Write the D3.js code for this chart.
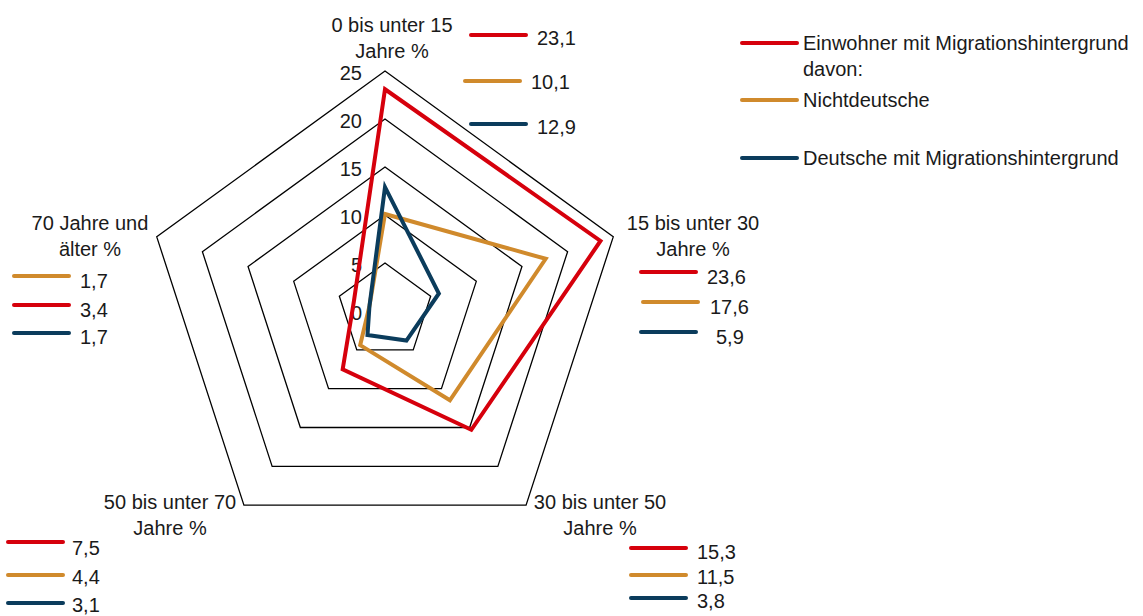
<!DOCTYPE html>
<html>
<head>
<meta charset="utf-8">
<script src="https://cdn.jsdelivr.net/npm/d3@7"></script>
<style>
  body { margin: 0; background: #fff; }
  svg text { font-family: "Liberation Sans", Arial, sans-serif; font-size: 20px; fill: #1a1a1a; letter-spacing: 0px; }
</style>
</head>
<body>
<script>
// categories (axes), clockwise from top
var categories = [
  ["0 bis unter 15", "Jahre %"],
  ["15 bis unter 30", "Jahre %"],
  ["30 bis unter 50", "Jahre %"],
  ["50 bis unter 70", "Jahre %"],
  ["70 Jahre und", "älter %"]
];
var seriesNames = ["Einwohner mit Migrationshintergrund", "Nichtdeutsche", "Deutsche mit Migrationshintergrund"];
var einwohner = [23.1, 23.6, 15.3, 7.5, 3.4];
var nichtdeutsche = [10.1, 17.6, 11.5, 4.4, 1.7];
var deutscheMig = [12.9, 5.9, 3.8, 3.1, 1.7];
var tickValues = [0, 5, 10, 15, 20, 25];

var WIDTH = 1143, HEIGHT = 616;
var CX = 385, CY = 311, R = 240;
var COLORS = ["#d6000c", "#d08a2c", "#0b3c5c"];

var seriesData = [einwohner, nichtdeutsche, deutscheMig];
var fmt = function(v) { return d3.format(".1f")(v).replace(".", ","); };

var svg = d3.select("body").append("svg")
  .attr("width", WIDTH)
  .attr("height", HEIGHT);

var r = d3.scaleLinear().domain([0, 25]).range([0, R]);
var angle = d3.scaleLinear().domain([0, categories.length]).range([0, 2 * Math.PI]);

var radial = d3.lineRadial()
  .angle(function(d, i) { return angle(i); })
  .radius(function(d) { return r(d); })
  .curve(d3.curveLinearClosed);

var g = svg.append("g").attr("transform", "translate(" + CX + "," + CY + ")");

// grid rings
g.selectAll("path.ring")
  .data(tickValues.filter(function(t) { return t > 0; }))
  .enter().append("path")
  .classed("ring", true)
  .attr("d", function(t) { return radial(categories.map(function() { return t; })); })
  .attr("fill", "none")
  .attr("stroke", "#000")
  .attr("stroke-width", 1.3);

// tick labels
g.selectAll("text.tick")
  .data(tickValues)
  .enter().append("text")
  .classed("tick", true)
  .attr("x", -23)
  .attr("y", function(t) { return -r(t) + 2; })
  .attr("dy", "0.35em")
  .attr("text-anchor", "end")
  .text(function(t) { return t; });

// series
g.selectAll("path.series")
  .data(seriesData)
  .enter().append("path")
  .classed("series", true)
  .attr("d", radial)
  .attr("fill", "none")
  .attr("stroke", function(d, i) { return COLORS[i]; })
  .attr("stroke-width", 4)
  .attr("stroke-linejoin", "miter");

// per-axis label blocks (title + key rows)
var blocks = [
  { tx: 392, ty: 25, rows: [[0, 471, 35, 537], [1, 465, 81, 531], [2, 471, 124, 537]], rowY: [38, 82, 127] },
  { tx: 693, ty: 223, rows: [[0, 641, 272, 707], [1, 643, 302, 710], [2, 641, 332, 716]], rowY: [277, 307, 337] },
  { tx: 600, ty: 502, rows: [[0, 631, 548, 697], [1, 631, 575, 697], [2, 631, 598, 697]], rowY: [552, 577, 601] },
  { tx: 170, ty: 502, rows: [[0, 8, 542, 72], [1, 8, 575, 72], [2, 8, 603, 72]], rowY: [548, 577, 605] },
  { tx: 90, ty: 223, rows: [[1, 14, 276, 80], [0, 14, 305, 80], [2, 14, 333, 80]], rowY: [281, 310, 337] }
];

blocks.forEach(function(b, ci) {
  var bg = svg.append("g");
  bg.selectAll("text.title")
    .data(categories[ci])
    .enter().append("text")
    .classed("title", true)
    .attr("x", b.tx)
    .attr("y", function(d, i) { return b.ty + i * 26; })
    .attr("dy", "0.35em")
    .attr("text-anchor", "middle")
    .text(function(d) { return d; });
  b.rows.forEach(function(row, k) {
    var s = row[0];
    bg.append("line")
      .attr("x1", row[1]).attr("x2", row[1] + 55)
      .attr("y1", row[2]).attr("y2", row[2])
      .attr("stroke", COLORS[s])
      .attr("stroke-width", 4)
      .attr("stroke-linecap", "round");
    bg.append("text")
      .attr("x", row[3])
      .attr("y", b.rowY[k])
      .attr("dy", "0.35em")
      .text(fmt(seriesData[s][ci]));
  });
});

// legend
var legend = svg.append("g");
var legendRows = [
  { y: 43, lines: [seriesNames[0], "davon:"] },
  { y: 100, lines: [seriesNames[1]] },
  { y: 158, lines: [seriesNames[2]] }
];
legendRows.forEach(function(d, i) {
  legend.append("line")
    .attr("x1", 742).attr("x2", 797)
    .attr("y1", d.y).attr("y2", d.y)
    .attr("stroke", COLORS[i])
    .attr("stroke-width", 4)
    .attr("stroke-linecap", "round");
  d.lines.forEach(function(t, j) {
    legend.append("text")
      .attr("x", 803)
      .attr("y", d.y + j * 26)
      .attr("dy", "0.35em")
      .text(t);
  });
});
</script>
</body>
</html>
